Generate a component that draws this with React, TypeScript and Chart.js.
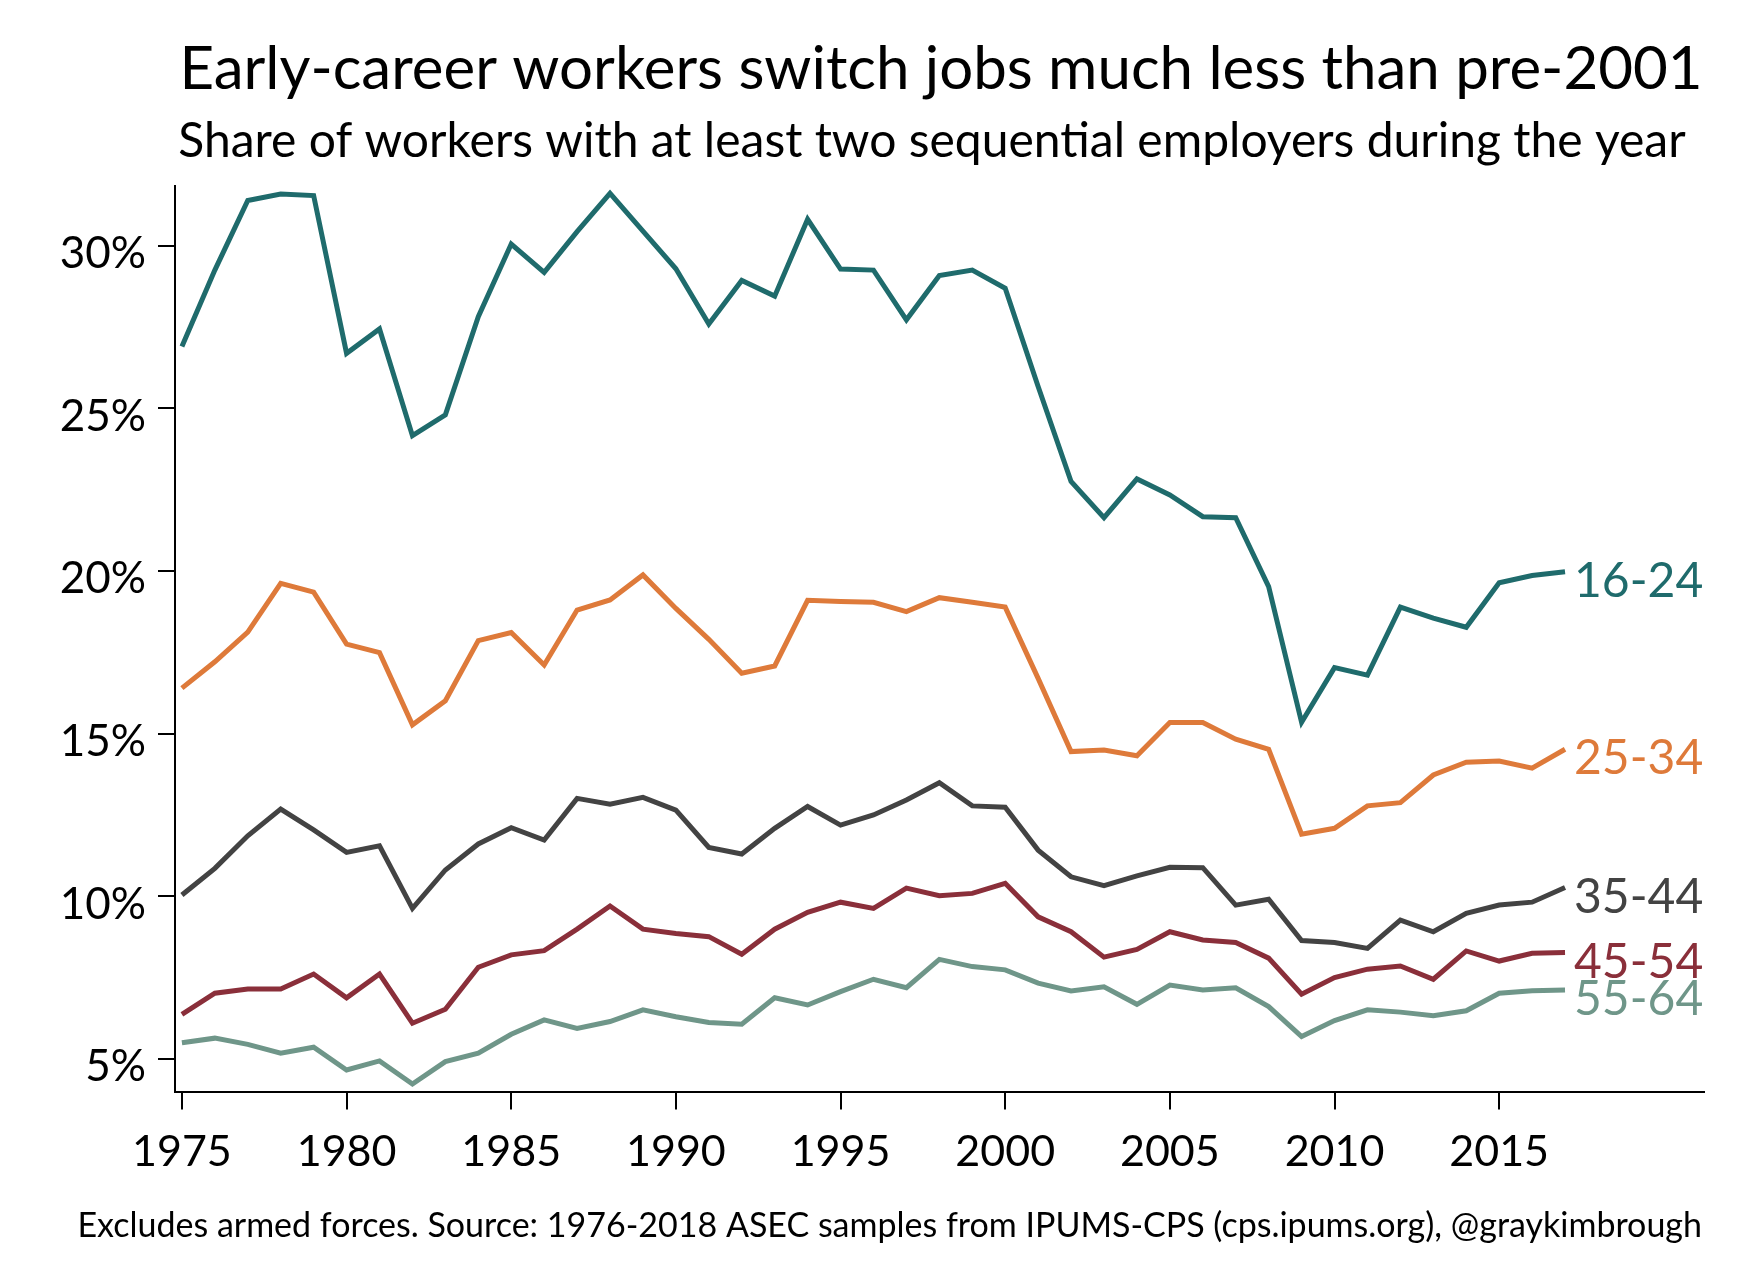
import React, { useEffect, useRef } from 'react';
import { Chart, registerables } from 'chart.js';

Chart.register(...registerables);

const years = [
  1975, 1976, 1977, 1978, 1979, 1980, 1981, 1982, 1983, 1984,
  1985, 1986, 1987, 1988, 1989, 1990, 1991, 1992, 1993, 1994,
  1995, 1996, 1997, 1998, 1999, 2000, 2001, 2002, 2003, 2004,
  2005, 2006, 2007, 2008, 2009, 2010, 2011, 2012, 2013, 2014,
  2015, 2016, 2017,
];

const age1624 = [
  26.9, 29.25, 31.39, 31.59, 31.54, 26.69, 27.44, 24.16, 24.8, 27.82,
  30.05, 29.18, 30.43, 31.61, 30.45, 29.29, 27.59, 28.93, 28.45, 30.81,
  29.28, 29.25, 27.72, 29.08, 29.25, 28.69, 25.67, 22.75, 21.64, 22.83,
  22.34, 21.67, 21.64, 19.52, 15.35, 17.03, 16.8, 18.89, 18.55, 18.27,
  19.64, 19.86, 19.98,
];

const age2534 = [
  16.4, 17.21, 18.12, 19.62, 19.35, 17.75, 17.49, 15.27, 16.01, 17.86,
  18.11, 17.11, 18.8, 19.11, 19.88, 18.85, 17.9, 16.86, 17.08, 19.1,
  19.06, 19.04, 18.75, 19.18, 19.04, 18.89, 16.7, 14.45, 14.5, 14.32,
  15.34, 15.34, 14.83, 14.52, 11.91, 12.09, 12.78, 12.88, 13.73, 14.12,
  14.16, 13.94, 14.52,
];

const age3544 = [
  10.04, 10.86, 11.86, 12.68, 12.04, 11.35, 11.55, 9.63, 10.81, 11.61,
  12.11, 11.73, 13.01, 12.83, 13.04, 12.65, 11.5, 11.3, 12.09, 12.76,
  12.19, 12.5, 12.96, 13.49, 12.78, 12.74, 11.42, 10.6, 10.33, 10.63,
  10.89, 10.88, 9.73, 9.91, 8.64, 8.58, 8.4, 9.27, 8.91, 9.48,
  9.73, 9.82, 10.27,
];

const age4554 = [
  6.37, 7.02, 7.15, 7.15, 7.61, 6.88, 7.61, 6.1, 6.53, 7.82,
  8.2, 8.33, 8.99, 9.7, 8.99, 8.86, 8.76, 8.22, 8.99, 9.51,
  9.82, 9.63, 10.25, 10.02, 10.09, 10.4, 9.37, 8.91, 8.13, 8.37,
  8.91, 8.66, 8.58, 8.1, 6.99, 7.5, 7.76, 7.86, 7.45, 8.32,
  8.01, 8.25, 8.27,
];

const age5564 = [
  5.5, 5.64, 5.45, 5.18, 5.36, 4.66, 4.94, 4.23, 4.92, 5.18,
  5.76, 6.2, 5.94, 6.15, 6.51, 6.3, 6.12, 6.07, 6.88, 6.66,
  7.07, 7.45, 7.19, 8.06, 7.84, 7.74, 7.33, 7.09, 7.22, 6.68,
  7.27, 7.12, 7.19, 6.61, 5.69, 6.18, 6.51, 6.44, 6.33, 6.48,
  7.02, 7.1, 7.12,
];

const seriesLabels = ['16-24', '25-34', '35-44', '45-54', '55-64'];
const seriesColors = ['#1f6b6c', '#de7a3a', '#434343', '#8a2f3a', '#6f9689'];
const seriesValues = [age1624, age2534, age3544, age4554, age5564];

const xTickValues = [1975, 1980, 1985, 1990, 1995, 2000, 2005, 2010, 2015];
const yTickValues = [5, 10, 15, 20, 25, 30];

const titleText = 'Early-career workers switch jobs much less than pre-2001';
const subtitleText = 'Share of workers with at least two sequential employers during the year';
const noteText =
  'Excludes armed forces. Source: 1976-2018 ASEC samples from IPUMS-CPS (cps.ipums.org), @graykimbrough';

const FONT = 'Lato, "Open Sans", sans-serif';

const textPlugin = {
  id: 'textPlugin',
  afterDraw(chart: any) {
    const ctx = chart.ctx;
    ctx.save();
    ctx.fillStyle = '#000';
    ctx.textBaseline = 'alphabetic';
    ctx.textAlign = 'center';
    ctx.font = `60px ${FONT}`;
    ctx.fillText(titleText, 941, 89);
    ctx.font = `48px ${FONT}`;
    ctx.fillText(subtitleText, 932, 157);
    ctx.textAlign = 'right';
    ctx.font = `34px ${FONT}`;
    ctx.fillText(noteText, 1702, 1237);

    ctx.textAlign = 'left';
    ctx.font = `48px ${FONT}`;
    chart.data.datasets.forEach((ds: any, i: number) => {
      const meta = chart.getDatasetMeta(i);
      const pts = meta.data;
      const last = pts[pts.length - 1];
      if (!last) return;
      ctx.fillStyle = seriesColors[i];
      ctx.fillText(seriesLabels[i], last.x + 9, last.y + 25);
    });
    ctx.restore();
  },
};

export default function App() {
  const ref = useRef<HTMLCanvasElement | null>(null);

  useEffect(() => {
    document.body.style.margin = '0';
    const canvas = ref.current;
    if (!canvas) return;

    const datasets = seriesValues.map((vals, i) => ({
      label: seriesLabels[i],
      data: years.map((y, j) => ({ x: y, y: vals[j] })),
      borderColor: seriesColors[i],
      backgroundColor: seriesColors[i],
      borderWidth: 5,
      pointRadius: 0,
      tension: 0,
      fill: false,
      borderJoinStyle: 'miter' as const,
    }));

    const chart = new Chart(canvas, {
      type: 'line',
      data: { datasets },
      plugins: [textPlugin],
      options: {
        responsive: false,
        animation: false,
        events: [],
        layout: { padding: { top: 186, right: 46, bottom: 0, left: 0 } },
        plugins: {
          legend: { display: false },
          tooltip: { enabled: false },
          title: { display: false },
        },
        scales: {
          x: {
            type: 'linear',
            min: 1974.79,
            max: 2021.22,
            afterBuildTicks: (scale: any) => {
              scale.ticks = xTickValues.map((v) => ({ value: v }));
            },
            afterFit: (scale: any) => {
              scale.height = 180.5;
            },
            grid: {
              drawOnChartArea: false,
              drawTicks: true,
              tickLength: 18,
              tickWidth: 2,
              tickColor: '#000',
              color: '#000',
              lineWidth: 2,
            },
            border: { display: true, color: '#000', width: 2 },
            ticks: {
              color: '#000',
              font: { family: FONT, size: 43 },
              padding: 17,
              maxRotation: 0,
              autoSkip: false,
              callback: (v: any) => String(v),
            },
          },
          y: {
            type: 'linear',
            min: 4.0,
            max: 31.835,
            afterBuildTicks: (scale: any) => {
              scale.ticks = yTickValues.map((v) => ({ value: v }));
            },
            afterFit: (scale: any) => {
              scale.width = 175;
            },
            grid: {
              drawOnChartArea: false,
              drawTicks: true,
              tickLength: 17,
              tickWidth: 2,
              tickColor: '#000',
              color: '#000',
              lineWidth: 2,
            },
            border: { display: true, color: '#000', width: 2 },
            ticks: {
              color: '#000',
              font: { family: FONT, size: 44 },
              padding: 12,
              labelOffset: 8,
              autoSkip: false,
              callback: (v: any) => `${v}%`,
            },
          },
        },
      },
    });

    return () => chart.destroy();
  }, []);

  return (
    <div style={{ width: 1750, height: 1272, background: '#fff' }}>
      <canvas ref={ref} width={1750} height={1272} style={{ display: 'block' }} />
    </div>
  );
}
